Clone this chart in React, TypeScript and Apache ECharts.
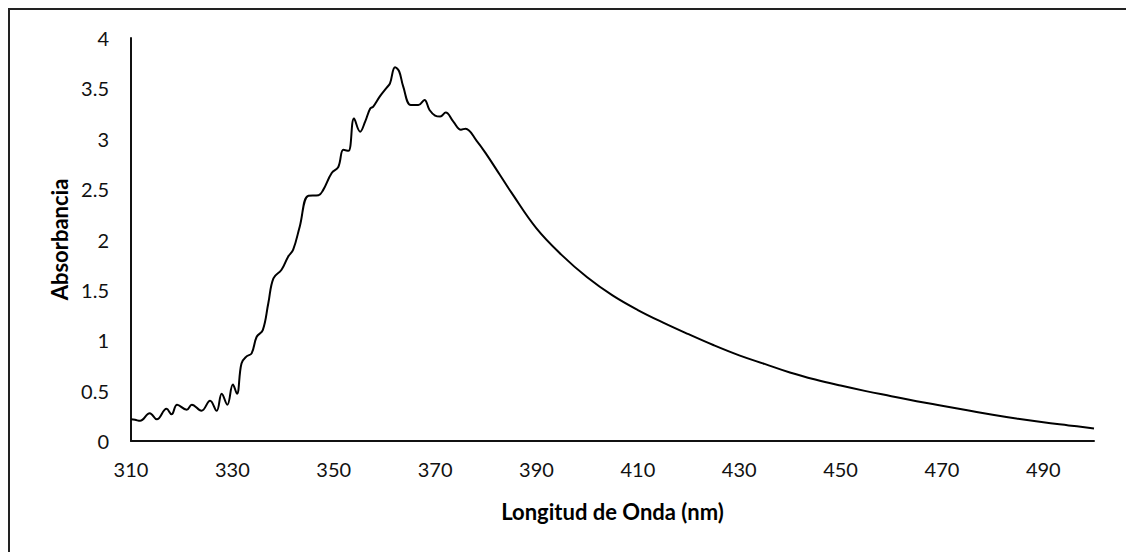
import React, { useEffect, useRef } from "react";
import * as echarts from "echarts";

// Wavelength (nm) and absorbance
const wavelengths: number[] = [
  310, 310.8, 311.8, 313.7, 315.1, 317.0, 318.0, 319.1, 321.0, 322.0, 323.9, 325.6, 326.9, 327.9,
  329.0, 330.1, 330.9, 331.8, 332.8, 333.8, 334.8, 336.0, 337.1, 338.1, 339.7, 341.0, 342.0,
  343.3, 345.0, 347.0, 347.9, 349.6, 350.9, 351.9, 352.9, 354.0, 355.2, 356.2, 357.2, 357.8,
  359.1, 360.5, 361.1, 362.1, 362.9, 363.7, 365.2, 366.7, 367.9, 368.9, 370.0, 371.0, 372.1,
  373.6, 375.1, 376.0, 378.2, 380.2, 382.8, 385, 390, 395, 400, 405, 410, 415, 420, 425, 430,
  435, 440, 445, 450, 455, 460, 465, 470, 475, 480, 485, 490, 495, 500,
];
const absorbance: number[] = [
  0.215, 0.21, 0.2, 0.275, 0.215, 0.32, 0.265, 0.36, 0.31, 0.36, 0.3, 0.4, 0.3, 0.47,
  0.36, 0.56, 0.47, 0.77, 0.84, 0.87, 1.035, 1.1, 1.37, 1.615, 1.7, 1.83, 1.9,
  2.13, 2.435, 2.44, 2.49, 2.66, 2.72, 2.89, 2.88, 3.2, 3.07, 3.17, 3.3, 3.32,
  3.42, 3.51, 3.55, 3.71, 3.67, 3.52, 3.335, 3.335, 3.385, 3.285, 3.23, 3.22, 3.26,
  3.17, 3.09, 3.1, 2.98, 2.84, 2.64, 2.47, 2.11, 1.845, 1.625, 1.445, 1.3, 1.175, 1.06, 0.95, 0.85,
  0.765, 0.68, 0.61, 0.55, 0.495, 0.445, 0.395, 0.35, 0.305, 0.26, 0.22, 0.185, 0.155, 0.125,
];
const xTickLabels: number[] = [310, 330, 350, 370, 390, 410, 430, 450, 470, 490];

const FONT = "Lato, 'Open Sans', sans-serif";

export default function App() {
  const ref = useRef<HTMLDivElement>(null);
  useEffect(() => {
    if (!ref.current) return;
    const chart = echarts.init(ref.current, undefined, { renderer: "svg" });
    chart.setOption({
      animation: false,
      backgroundColor: "#ffffff",
      grid: { left: 121, right: 40, top: 28, bottom: 111, containLabel: false },
      xAxis: {
        type: "value",
        min: 310,
        max: 500,
        interval: 10,
        name: "Longitud de Onda (nm)",
        nameLocation: "middle",
        nameGap: 59,
        nameTextStyle: { fontFamily: FONT, fontSize: 22, fontWeight: "bold", color: "#000" },
        axisLine: { show: true, onZero: false, lineStyle: { color: "#111", width: 2 } },
        axisTick: { show: false },
        splitLine: { show: false },
        axisLabel: {
          fontFamily: FONT,
          fontSize: 20,
          color: "#111",
          margin: 18,
          formatter: (v: number) => {
            const r = Math.round(v);
            return xTickLabels.includes(r) ? String(r) : "";
          },
        },
      },
      yAxis: {
        type: "value",
        min: 0,
        max: 4,
        interval: 0.5,
        name: "Absorbancia",
        nameLocation: "middle",
        nameGap: 57,
        nameTextStyle: { fontFamily: FONT, fontSize: 22, fontWeight: "bold", color: "#000" },
        axisLine: { show: true, lineStyle: { color: "#111", width: 2 } },
        axisTick: { show: false },
        splitLine: { show: false },
        axisLabel: { fontFamily: FONT, fontSize: 20, color: "#111", margin: 22 },
      },
      series: [
        {
          type: "line",
          data: wavelengths.map((w, i) => [w, absorbance[i]]),
          smooth: 0.4,
          showSymbol: false,
          lineStyle: { color: "#000", width: 2 },
        },
      ],
    });
    return () => chart.dispose();
  }, []);
  return (
    <div
      style={{
        width: 1126,
        height: 544,
        borderTop: "2px solid #222",
        borderLeft: "2px solid #222",
        boxSizing: "border-box",
      }}
    >
      <div ref={ref} style={{ width: 1124, height: 542 }} />
    </div>
  );
}
